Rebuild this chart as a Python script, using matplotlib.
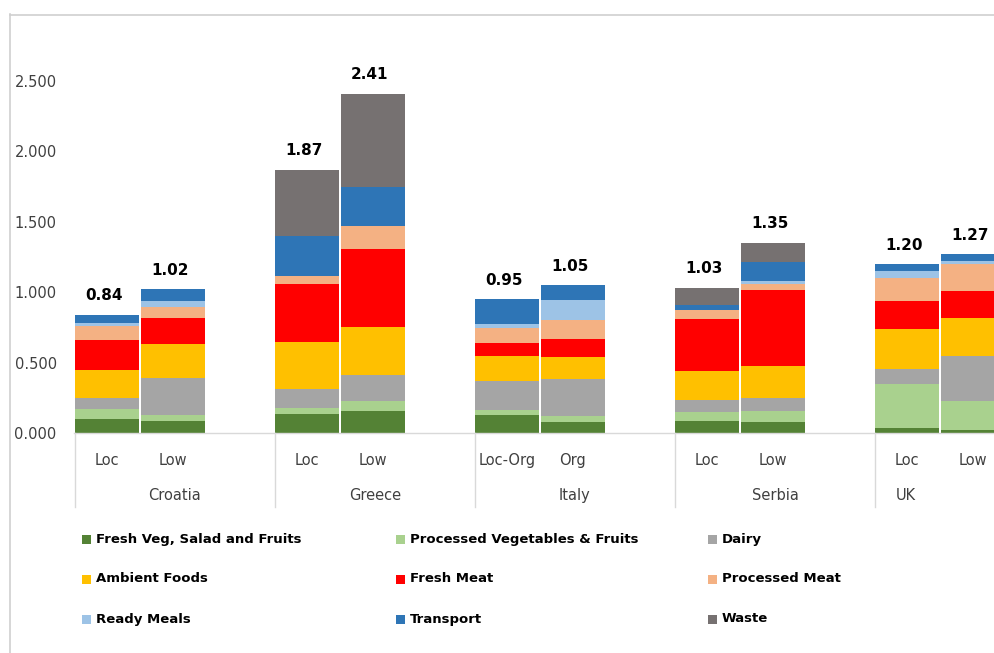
import matplotlib
matplotlib.use("Agg")
import matplotlib.pyplot as plt
from matplotlib.lines import Line2D
from matplotlib.patches import Rectangle
import numpy as np

# ---- data -------------------------------------------------------------
countries = ["Croatia", "Greece", "Italy", "Serbia", "UK"]
scenarios = [["Loc", "Low"], ["Loc", "Low"], ["Loc-Org", "Org"], ["Loc", "Low"], ["Loc", "Low"]]

fresh_veg      = [0.099, 0.088, 0.137, 0.159, 0.130, 0.076, 0.083, 0.076, 0.038, 0.024]
processed_veg  = [0.071, 0.040, 0.040, 0.066, 0.036, 0.043, 0.066, 0.078, 0.313, 0.201]
dairy          = [0.076, 0.265, 0.135, 0.187, 0.201, 0.265, 0.088, 0.095, 0.104, 0.322]
ambient_foods  = [0.204, 0.241, 0.336, 0.341, 0.178, 0.156, 0.201, 0.225, 0.284, 0.270]
fresh_meat     = [0.213, 0.185, 0.410, 0.556, 0.095, 0.128, 0.372, 0.545, 0.201, 0.192]
processed_meat = [0.094, 0.076, 0.059, 0.163, 0.104, 0.133, 0.066, 0.036, 0.163, 0.194]
ready_meals    = [0.024, 0.040, 0.000, 0.000, 0.033, 0.147, 0.000, 0.028, 0.050, 0.017]
transport      = [0.059, 0.085, 0.279, 0.272, 0.173, 0.102, 0.036, 0.130, 0.047, 0.050]
waste          = [0.000, 0.000, 0.474, 0.666, 0.000, 0.000, 0.118, 0.137, 0.000, 0.000]

series_names = ["Fresh Veg, Salad and Fruits", "Processed Vegetables & Fruits", "Dairy",
                "Ambient Foods", "Fresh Meat", "Processed Meat",
                "Ready Meals", "Transport", "Waste"]
series_values = [fresh_veg, processed_veg, dairy, ambient_foods, fresh_meat,
                 processed_meat, ready_meals, transport, waste]
series_colors = ["#548235", "#A9D18E", "#A5A5A5", "#FFC000", "#FF0000",
                 "#F4B183", "#9DC3E6", "#2E75B6", "#767171"]

# ---- figure -----------------------------------------------------------
W, H, DPI = 995, 653, 100
fig = plt.figure(figsize=(W / DPI, H / DPI), dpi=DPI)
fig.patch.set_facecolor("white")

def px_x(x):
    return x / W

def px_y(y):
    return 1 - y / H

# chart-area frame (top and left edges)
frame_col = "#CFCFCF"
fig.add_artist(Line2D([px_x(10), 1.0], [px_y(14.5), px_y(14.5)], color=frame_col, lw=1.2))
fig.add_artist(Line2D([px_x(10.5), px_x(10.5)], [px_y(14), 0.0], color=frame_col, lw=1.2))

# plot area: x unit = 100 px, y unit = 140.8 px
ax_left, ax_right, ax_top, ax_bottom = 74, 1075, 81, 433
ax = fig.add_axes([px_x(ax_left), px_y(ax_bottom),
                   (ax_right - ax_left) / W, (ax_bottom - ax_top) / H])
ax.set_xlim(-0.01, 10.0)
ax.set_ylim(0, 2.5)
ax.set_facecolor("none")

# bar positions: two bars per country group (group width 2 units)
xs = []
for g in range(len(countries)):
    xs.extend([2 * g + 0.32, 2 * g + 0.98])
xs = np.array(xs)
bar_w = 0.645

bottom = np.zeros(len(xs))
for name, vals, col in zip(series_names, series_values, series_colors):
    v = np.array(vals)
    ax.bar(xs, v, width=bar_w, bottom=bottom, color=col, label=name,
           linewidth=0)
    bottom += v

# totals above bars
for x, tot in zip(xs, bottom):
    ax.annotate(f"{tot:.2f}", xy=(x, tot), xytext=(-3, 19),
                textcoords="offset pixels", ha="center", va="center",
                fontsize=11, fontweight="bold", color="black",
                annotation_clip=False)

# axes styling
for s in ["top", "right", "left"]:
    ax.spines[s].set_visible(False)
ax.spines["bottom"].set_color("#D9D9D9")
ax.spines["bottom"].set_linewidth(1.0)
ax.set_xticks([])
ax.set_yticks(np.arange(0, 2.51, 0.5))
ax.set_yticklabels([f"{t:.3f}" for t in np.arange(0, 2.51, 0.5)])
ax.tick_params(axis="y", length=0, pad=12.5, labelsize=10.5, labelcolor="#404040")

# multi-level category axis
sub_base = -(465 - 433) / 140.8
cat_base = -(500 - 433) / 140.8
sep_bottom = -(507 - 433) / 140.8
cat_label_x = [1.0, 3.0, 5.0, 7.0, 8.31]
for g, (country, subs) in enumerate(zip(countries, scenarios)):
    ax.plot([2 * g, 2 * g], [0, sep_bottom], color="#D9D9D9", lw=1.0,
            clip_on=False)
    for k, lab in enumerate(subs):
        ax.text(xs[2 * g + k], sub_base, lab, ha="center", va="baseline",
                fontsize=10.5, color="#404040", clip_on=False)
    ax.text(cat_label_x[g], cat_base, country, ha="center", va="baseline",
            fontsize=10.5, color="#404040", clip_on=False)

# legend: three columns, three rows
col_marker_x = [82, 396, 708]
row_y = [539, 579, 619]
for i, (name, col) in enumerate(zip(series_names, series_colors)):
    r, c = divmod(i, 3)
    mx, my = col_marker_x[c], row_y[r]
    fig.add_artist(Rectangle((px_x(mx), px_y(my + 4.5)), 9 / W, 9 / H,
                             transform=fig.transFigure, facecolor=col,
                             edgecolor="none"))
    fig.text(px_x(mx + 14), px_y(my), name, ha="left", va="center",
             fontsize=9.5, fontweight="bold", color="black")

fig.savefig("out.png", dpi=DPI, facecolor="white")
